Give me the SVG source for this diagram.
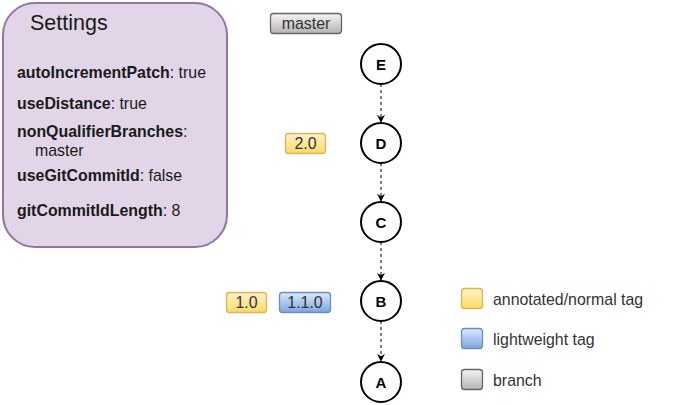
<svg xmlns="http://www.w3.org/2000/svg" width="673" height="405" viewBox="0 0 673 405">
<style>
text{font-family:"Liberation Sans",Arial,sans-serif;fill:#1a1a1a}
.c{fill:#fff;stroke:#000;stroke-width:2}
.cl{font-size:15px;font-weight:bold;text-anchor:middle;fill:#000}
.t{font-size:15.9px}
.k{font-weight:bold}
.tag{font-size:15.9px;text-anchor:middle;fill:#333}
.e{stroke:#000;stroke-width:1;stroke-dasharray:3 3;fill:none}
.y{fill:url(#gy);stroke:#d6b656;stroke-width:1.3}
.b{fill:url(#gb);stroke:#6c8ebf;stroke-width:1.3}
.g{fill:url(#gg);stroke:#666;stroke-width:1.3}
.lg{fill:#333}
</style>
<defs>
<linearGradient id="gy" x1="0" y1="0" x2="0" y2="1"><stop offset="0" stop-color="#fff2cc"/><stop offset="1" stop-color="#ffd966"/></linearGradient>
<linearGradient id="gb" x1="0" y1="0" x2="0" y2="1"><stop offset="0" stop-color="#dae8fc"/><stop offset="1" stop-color="#7ea6e0"/></linearGradient>
<linearGradient id="gg" x1="0" y1="0" x2="0" y2="1"><stop offset="0" stop-color="#f5f5f5"/><stop offset="1" stop-color="#b3b3b3"/></linearGradient>
<marker id="ah" viewBox="0 0 10 10" refX="9" refY="5" markerWidth="8" markerHeight="8" markerUnits="userSpaceOnUse" orient="auto"><path d="M0,0 L10,5 L0,10 L3,5 Z" fill="#000"/></marker>
</defs>
<g id="settings">
<rect x="3" y="3" width="224" height="244" rx="32" ry="32" fill="#e1d5e7" stroke="#9673a6" stroke-width="2"/>
<text x="30" y="30" font-size="21.5">Settings</text>
<text class="t" x="17" y="78"><tspan class="k">autoIncrementPatch</tspan>: true</text>
<text class="t" x="17" y="109"><tspan class="k">useDistance</tspan>: true</text>
<text class="t" x="17" y="137"><tspan class="k">nonQualifierBranches</tspan>:</text>
<text class="t" x="35" y="156">master</text>
<text class="t" x="17" y="181"><tspan class="k">useGitCommitId</tspan>: false</text>
<text class="t" x="17" y="216"><tspan class="k">gitCommitIdLength</tspan>: 8</text>
</g>
<g id="connectors">
<line class="e" x1="381" y1="84" x2="381" y2="122" marker-end="url(#ah)"/>
<line class="e" x1="381" y1="163" x2="381" y2="201" marker-end="url(#ah)"/>
<line class="e" x1="381" y1="242" x2="381" y2="280" marker-end="url(#ah)"/>
<line class="e" x1="381" y1="321" x2="381" y2="361" marker-end="url(#ah)"/>
</g>
<g id="E"><circle class="c" cx="381" cy="64" r="20"/><text class="cl" x="381" y="69.5">E</text></g>
<g id="D"><circle class="c" cx="381" cy="143" r="20"/><text class="cl" x="381" y="148.5">D</text></g>
<g id="C"><circle class="c" cx="381" cy="222" r="20"/><text class="cl" x="381" y="227.5">C</text></g>
<g id="B"><circle class="c" cx="381" cy="301" r="20"/><text class="cl" x="381" y="306.5">B</text></g>
<g id="A"><circle class="c" cx="381" cy="382" r="20"/><text class="cl" x="381" y="387.5">A</text></g>
<g id="master"><rect class="g" x="270.5" y="13.5" width="71" height="20" rx="3"/><text class="tag" x="306" y="29">master</text></g>
<g id="tag20"><rect class="y" x="285.5" y="133.5" width="40" height="20" rx="3"/><text class="tag" x="305.5" y="149">2.0</text></g>
<g id="tag10"><rect class="y" x="226.5" y="292.5" width="40" height="20" rx="3"/><text class="tag" x="246.5" y="308">1.0</text></g>
<g id="tag110"><rect class="b" x="279.5" y="292.5" width="51" height="20" rx="3"/><text class="tag" x="305" y="308">1.1.0</text></g>
<g id="legend">
<rect class="y" x="461.5" y="288.5" width="21" height="20" rx="3"/><text class="t lg" x="493" y="304.5">annotated/normal tag</text>
<rect class="b" x="461.5" y="328.5" width="21" height="20" rx="3"/><text class="t lg" x="493" y="344.5">lightweight tag</text>
<rect class="g" x="461.5" y="369.5" width="21" height="20" rx="3"/><text class="t lg" x="493" y="385.5">branch</text>
</g>
</svg>
